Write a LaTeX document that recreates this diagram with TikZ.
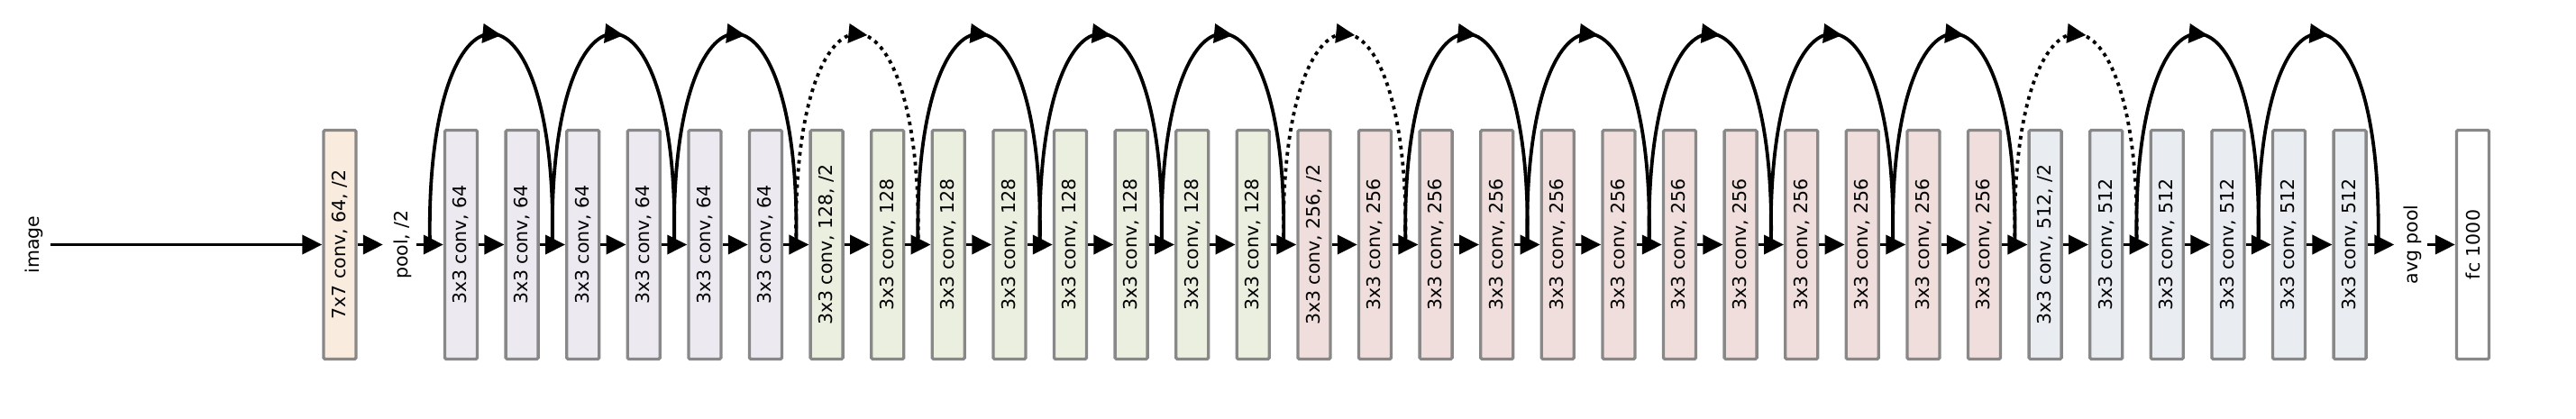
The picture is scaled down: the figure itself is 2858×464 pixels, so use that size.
\documentclass[tikz,border=0pt]{standalone}
\usepackage{fontspec}
\setmainfont{DejaVu Sans}
\usetikzlibrary{arrows.meta,calc}
\definecolor{cseven}{HTML}{F9EBDE}
\definecolor{csixtyfour}{HTML}{ECE9F1}
\definecolor{conetwoeight}{HTML}{EBEFE0}
\definecolor{ctwofivesix}{HTML}{F0DEDC}
\definecolor{cfiveonetwo}{HTML}{E9EDF2}
\definecolor{bordergray}{HTML}{888888}
\tikzset{
  lbl/.style={font=\fontsize{20.5pt}{24pt}\selectfont},
  layerbox/.style={lbl, draw=bordergray, line width=3.3pt, rounded corners=1.5pt,
    minimum width=254pt, minimum height=36pt, inner sep=0pt, rotate=90},
  txt/.style={lbl, rotate=90, inner sep=5pt},
  arr/.style={line width=3.8pt, -{Triangle[length=22pt,width=21pt]}},
  skip/.style={line width=3.8pt},
  dskip/.style={skip, dash pattern=on 4pt off 5pt},
  apexarr/.style={line width=3.8pt, -{Triangle[length=21pt,width=21pt]}},
}
\begin{document}
\begin{tikzpicture}[x=1pt,y=1pt]
\useasboundingbox (0,0) rectangle (2858,464);
\node[txt] (img) at (38,192.5) {image};
\node[layerbox, fill=cseven] (b0) at (377,192.5) {7x7 conv, 64, /2};
\node[txt] (pool) at (447,192.5) {pool, /2};
\foreach \i/\lab/\col in {
  1/{3x3 conv, 64}/csixtyfour, 2/{3x3 conv, 64}/csixtyfour, 3/{3x3 conv, 64}/csixtyfour,
  4/{3x3 conv, 64}/csixtyfour, 5/{3x3 conv, 64}/csixtyfour, 6/{3x3 conv, 64}/csixtyfour,
  7/{3x3 conv, 128, /2}/conetwoeight, 8/{3x3 conv, 128}/conetwoeight, 9/{3x3 conv, 128}/conetwoeight,
  10/{3x3 conv, 128}/conetwoeight, 11/{3x3 conv, 128}/conetwoeight, 12/{3x3 conv, 128}/conetwoeight,
  13/{3x3 conv, 128}/conetwoeight, 14/{3x3 conv, 128}/conetwoeight,
  15/{3x3 conv, 256, /2}/ctwofivesix, 16/{3x3 conv, 256}/ctwofivesix, 17/{3x3 conv, 256}/ctwofivesix,
  18/{3x3 conv, 256}/ctwofivesix, 19/{3x3 conv, 256}/ctwofivesix, 20/{3x3 conv, 256}/ctwofivesix,
  21/{3x3 conv, 256}/ctwofivesix, 22/{3x3 conv, 256}/ctwofivesix, 23/{3x3 conv, 256}/ctwofivesix,
  24/{3x3 conv, 256}/ctwofivesix, 25/{3x3 conv, 256}/ctwofivesix, 26/{3x3 conv, 256}/ctwofivesix,
  27/{3x3 conv, 512, /2}/cfiveonetwo, 28/{3x3 conv, 512}/cfiveonetwo, 29/{3x3 conv, 512}/cfiveonetwo,
  30/{3x3 conv, 512}/cfiveonetwo, 31/{3x3 conv, 512}/cfiveonetwo, 32/{3x3 conv, 512}/cfiveonetwo}
  \node[layerbox, fill=\col] (b\i) at ({511.5+(\i-1)*67.6},192.5) {\lab};
\node[txt, inner sep=6pt] (avg) at (2676.5,192.5) {avg pool};
\node[layerbox, fill=white] (fc) at (2743.5,192.5) {fc 1000};
% main chain
\draw[arr, shorten <=3pt] (img.south) -- (b0.north);
\draw[arr, shorten >=7pt] (b0.south) -- (pool.north);
\draw[arr] (pool.south) -- (b1.north);
\foreach \i [evaluate=\i as \j using int(\i+1)] in {1,...,31}
  \draw[arr] (b\i.south) -- (b\j.north);
\draw[arr, shorten >=4pt] (b32.south) -- (avg.north);
\draw[arr] (avg.south) -- (fc.north);
% skip coordinates
\coordinate (g1) at ($(pool.south)!0.5!(b1.north)$);
\foreach \i [evaluate=\i as \h using int(\i-1)] in {2,...,32}
  \coordinate (g\i) at ($(b\h.south)!0.5!(b\i.north)$);
\coordinate (g33) at ($(b32.south)!0.35!(avg.north)$);
% shortcuts
\foreach \k/\sty [evaluate=\k as \m using int(\k+2)] in {1/skip,3/skip,5/skip,7/dskip,9/skip,11/skip,13/skip,
    15/dskip,17/skip,19/skip,21/skip,23/skip,25/skip,27/dskip,29/skip,31/skip}{
  \coordinate (a\k) at ($(g\k)!0.5!(g\m)+(0,234)$);
  \draw[\sty] (g\k) .. controls +(-6,312) and +(6,312) .. (g\m);
  \draw[apexarr] ($(a\k)+(-4,0)$) -- ($(a\k)+(11.5,-1.5)$);
}
\end{tikzpicture}
\end{document}
